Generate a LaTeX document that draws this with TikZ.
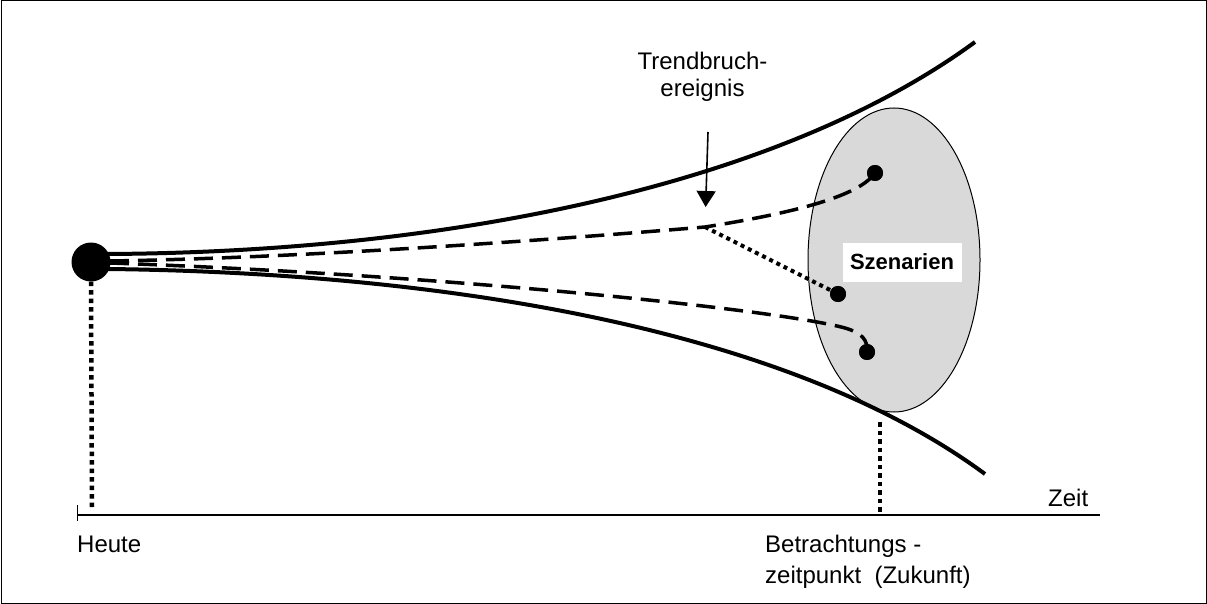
\documentclass[tikz,border=0pt]{standalone}
\usepackage{fontspec}
\setmainfont{Liberation Sans}
\usetikzlibrary{arrows.meta,shapes.geometric}
\begin{document}
\begin{tikzpicture}[x=1pt,y=-1pt,
  lbl/.style={font=\fontsize{24}{30.5}\selectfont, inner sep=0pt},
  dotnode/.style={circle, fill=black, inner sep=0pt, minimum size=16pt},
  bound/.style={line width=4pt},
  dashline/.style={line width=3.5pt, dash pattern=on 19pt off 9pt},
  dotline/.style={line width=4pt, dash pattern=on 4pt off 4pt},
  vdots/.style={line width=4.5pt, dash pattern=on 4.5pt off 4pt}
]
\useasboundingbox (0,0) rectangle (1207,604);
\draw[line width=1pt] (1,1) rectangle (1206,603);

% scenario ellipse
\node[ellipse, draw, line width=1pt, fill=black!15, minimum width=172pt, minimum height=304pt, inner sep=0pt] (scen) at (894,260) {};
\node[fill=white, font=\bfseries\fontsize{22}{26}\selectfont, minimum width=119pt, minimum height=39pt, inner sep=0pt] (scenlbl) at (902,262) {Szenarien};

% start dot
\node[circle, fill=black, inner sep=0pt, minimum size=39pt] (start) at (91,262) {};

% boundary curves
\coordinate (u0) at (108,254);
\coordinate (u1) at (975,42);
\coordinate (l0) at (108,269);
\coordinate (l1) at (985,474);
\draw[bound] (u0) .. controls (450,252) and (780,185) .. (u1);
\draw[bound] (l0) .. controls (450,273) and (790,330) .. (l1);

% scenario dots
\node[dotnode] (d1) at (875,173) {};
\node[dotnode] (d2) at (838,294) {};
\node[dotnode] (d3) at (867,352) {};

% trend lines
\coordinate (s1) at (110,261);
\coordinate (s2) at (110,263);
\coordinate (tb) at (705,227);
\coordinate (lb) at (845,328);
\draw[dashline] (s1) .. controls (300,258) and (550,240) .. (tb)
  .. controls (800,212) and (860,195) .. (d1.center);
\draw[dashline] (s2) .. controls (450,275) and (780,310) .. (lb)
  .. controls (862,333) and (868,340) .. (d3.center);
\draw[dotline] (tb) -- (d2.center);
\node[dotnode] at (d1) {};
\node[dotnode] at (d2) {};
\node[dotnode] at (d3) {};

% trend break label and arrow
\node[lbl, font=\fontsize{24}{27.3}\selectfont, align=center, anchor=north] (tblbl) at (702.5,51.5) {Trendbruch-\\ereignis};
\coordinate (arrstart) at (708,132);
\draw[line width=1.6pt, -{Triangle[length=16pt,width=19pt]}, shorten >=20pt] (arrstart) -- (tb);

% time axis
\coordinate (ax0) at (77,515);
\coordinate (ax1) at (1100,515);
\draw[line width=1.5pt] (ax0) -- (ax1);
\draw[line width=1pt] (77,505) -- (77,521);
\node[lbl, anchor=base west] (zeit) at (1048,506) {Zeit};

% vertical dotted lines
\coordinate (h0) at (92,507);
\coordinate (f0) at (880,422);
\coordinate (f1) at (880,512);
\draw[vdots] (start.south) -- (h0);
\draw[vdots] (f0) -- (f1);

\node[lbl, anchor=base west] (heute) at (77,552.7) {Heute};
\node[lbl, anchor=north west, align=left] (betr) at (765,535.3) {Betrachtungs -\\zeitpunkt~ (Zukunft)};
\end{tikzpicture}
\end{document}
